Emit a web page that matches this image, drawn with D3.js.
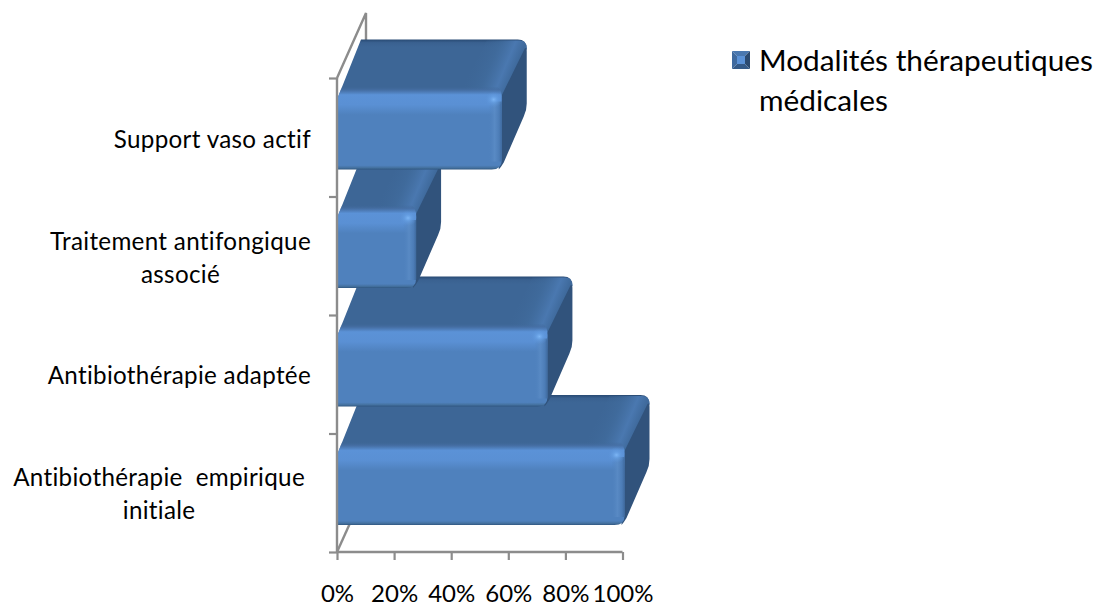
<!DOCTYPE html>
<html>
<head>
<meta charset="utf-8">
<script src="https://cdn.jsdelivr.net/npm/d3@7/dist/d3.min.js"></script>
<style>
  html, body { margin: 0; background: #fff; }
  svg { display: block; }
  text { font-family: Lato, "Open Sans", sans-serif; fill: #000; white-space: pre; font-variant-ligatures: none; }
</style>
</head>
<body>
<svg id="chart" width="1100" height="608"></svg>
<script>
// Share of patients per medical treatment, bottom to top on the chart
const categories = ["Antibiothérapie empirique initiale", "Antibiothérapie adaptée", "Traitement antifongique associé", "Support vaso actif"];
const categoryLines = [["Antibiothérapie  empirique ", "initiale"], ["Antibiothérapie adaptée"], ["Traitement antifongique", "associé"], ["Support vaso actif"]];
const values = [100, 73, 27, 57];
const percentTicks = [0, 20, 40, 60, 80, 100];
const seriesName = ["Modalités thérapeutiques", "médicales"];

const svg = d3.select("#chart");
const defs = svg.append("defs");

const x = d3.scaleLinear().domain([0, 100]).range([337, 622.5]);
const y = d3.scaleBand().domain(categories).range([552, 78]);
const labelY = d3.scalePoint().domain(categories).range([502, 148]);

// Oblique depth of the 3D box
const depthX = 24, depthY = 58;
const barH = 72, barFoot = 27, barOver = 3, radius = 9;
const axisColor = "#8c8c8c";

function gradient(id, stops, dir) {
  const g = defs.append("linearGradient").attr("id", id)
    .attr("x1", 0).attr("y1", 0)
    .attr("x2", dir === "h" ? 1 : 0).attr("y2", dir === "h" ? 0 : 1);
  stops.forEach(s => g.append("stop").attr("offset", s[0]).attr("stop-color", s[1]).attr("stop-opacity", s[2] === undefined ? 1 : s[2]));
}

// Front face: soft top bevel, flat body, dark lower lip
gradient("frontFill", [
  [0, "#3f6899", 0], [0.04, "#466fa5", 0.8], [0.1, "#5b92d7"], [0.22, "#5a90d4"],
  [0.34, "#4f81bd"], [0.95, "#4f81bd"], [0.98, "#44719f"], [1, "#2f5680"]
]);
gradient("frontEdge", [[0, "#4f81bd", 0], [0.45, "#5b8cc6", 0.8], [0.8, "#4c7cb6", 0.9], [1, "#3f6a9e", 1]], "h");
gradient("topLip", [[0, "#284a73"], [0.05, "#3a6190"], [0.12, "#3d6696"], [1, "#3d6696"]]);

const glow = defs.append("radialGradient").attr("id", "cornerGlow");
glow.append("stop").attr("offset", 0).attr("stop-color", "#7db6f5").attr("stop-opacity", 1);
glow.append("stop").attr("offset", 0.4).attr("stop-color", "#68a2e6").attr("stop-opacity", 0.65);
glow.append("stop").attr("offset", 1).attr("stop-color", "#5b92d7").attr("stop-opacity", 0);

// Walls and floor seen through the chart, drawn below the bars
const wall = svg.append("g").attr("fill", "none").attr("stroke", axisColor).attr("stroke-width", 2.4);
const [axisX0] = x.range();
const [axisBottom, axisTop] = y.range();
wall.append("path").attr("d", `M${axisX0},${axisTop}L${axisX0 + 29},${axisTop - 65}V${axisTop - 30}`);
wall.append("path").attr("d", `M${axisX0},${axisBottom}L${axisX0 + 14},${axisBottom - 31}`);

// Boxes are stacked from the bottom category upward so the upper ones overlap
const bars = svg.append("g").selectAll("g").data(categories).join("g");

bars.each(function (cat, i) {
  const g = d3.select(this);
  const x0 = x(0);
  const x1 = x(values[i]) + barOver;
  const yb = y(cat) + y.bandwidth() - barFoot;
  const yt = yb - barH;
  const bx = x1 + depthX, bt = yt - depthY, bb = yb - depthY;
  const r = radius;

  // Upper face
  g.append("path")
    .attr("d", `M${x0},${yt + 2}L${x0 + depthX},${bt}H${bx - r}Q${bx},${bt} ${bx},${bt + r}L${x1},${yt + 6}Z`)
    .attr("fill", "url(#topLip)");

  // Sheen along the far edge of the upper face, its bands parallel to the slant
  const id = "sheen" + i;
  const sheen = defs.append("linearGradient").attr("id", id).attr("gradientUnits", "userSpaceOnUse")
    .attr("x1", x1 - 24 - 20).attr("y1", yt - 8.5)
    .attr("x2", x1 - 24 + 20.5).attr("y2", yt + 8.5);
  [[0, "#3d6696", 0], [0.45, "#416d9f", 0.6], [0.78, "#4a78b0", 1], [1, "#3f6a9c", 1]].forEach(s =>
    sheen.append("stop").attr("offset", s[0]).attr("stop-color", s[1]).attr("stop-opacity", s[2]));
  g.append("path")
    .attr("d", `M${x1 - 40},${yt - 11}L${bx - 40},${bt + 1}H${bx - r}Q${bx},${bt} ${bx},${bt + r}L${x1},${yt + 6}Z`)
    .attr("fill", `url(#${id})`);

  // Right-hand face
  g.append("path")
    .attr("d", `M${x1 - 2},${yt}L${bx - 2},${bt + 9}Q${bx},${bt + 7} ${bx},${bt + 12}V${bb - 8}Q${bx},${bb - 1} ${bx - 3},${bb + 5}L${x1 + 1},${yb - 7}Q${x1 - 2},${yb - 2} ${x1 - 4},${yb}Z`)
    .attr("fill", "#31537c");

  // Front face with its bevel
  g.append("path")
    .attr("d", `M${x0},${yb}V${yt + 2}L${x0 + 5},${yt - 11}H${x1 - 6}Q${x1},${yt - 8} ${x1 - 1},${yt + 4}V${yb - r}Q${x1 - 1},${yb} ${x1 - r - 2},${yb}Z`)
    .attr("fill", "url(#frontFill)");
  g.append("rect")
    .attr("x", x1 - 14).attr("y", yt + 4).attr("width", 13).attr("height", barH - 12)
    .attr("fill", "url(#frontEdge)");
  g.append("ellipse")
    .attr("cx", x1 - 9).attr("cy", yt + 2).attr("rx", 9).attr("ry", 8)
    .attr("fill", "url(#cornerGlow)");
});

// Value axis
const xAxis = d3.axisBottom(x).tickValues(percentTicks).tickSize(8).tickPadding(25).tickFormat(d => d + "%");
const xG = svg.append("g").attr("transform", `translate(0,${axisBottom})`).call(xAxis);
xG.select(".domain").attr("stroke", axisColor).attr("stroke-width", 2.6).attr("d", `M${x.range()[0]},0H${x.range()[1]}`);
xG.selectAll(".tick line").attr("stroke", axisColor).attr("stroke-width", 2.2);
xG.selectAll(".tick text").attr("font-size", 24).style("font-family", "Lato, sans-serif").attr("fill", "#000");

// Category axis: ticks sit on the band boundaries
const boundary = d3.scaleLinear().domain([0, categories.length]).range([axisBottom, axisTop]);
const yAxis = d3.axisLeft(boundary).ticks(categories.length).tickSize(8).tickFormat("");
const yG = svg.append("g").attr("transform", `translate(${axisX0},0)`).call(yAxis);
yG.select(".domain").attr("stroke", axisColor).attr("stroke-width", 2.4).attr("d", `M0,${axisBottom}V${axisTop}`);
yG.selectAll(".tick line").attr("stroke", axisColor).attr("stroke-width", 2.2);

// Category labels: each block is centred and flush against the axis,
// a trailing space on the first line holds that block slightly further off
const labelRight = 311, lineGap = 33, trailingInset = 6;
categories.forEach((cat, i) => {
  const lines = categoryLines[i];
  const inset = lines[0].endsWith(" ") ? trailingInset : 0;
  const t = svg.append("g").selectAll("text").data(lines).join("text")
    .attr("font-size", 24.2)
    .attr("letter-spacing", 0.32)
    .attr("y", (d, k) => labelY(cat) + (k - (lines.length - 1) / 2) * lineGap)
    .text(d => d.trimEnd());
  const widest = d3.max(t.nodes(), n => n.getComputedTextLength());
  t.attr("text-anchor", "middle").attr("x", labelRight - inset - widest / 2);
});

// Legend with its bevelled swatch
const lx = 732, ly = 51, ls = 18, li = 5;
const legend = svg.append("g");
const facets = [
  [`M${lx},${ly}h${ls}l${-li},${li}h${-(ls - 2 * li)}Z`, "#4a78b0"],
  [`M${lx},${ly}v${ls}l${li},${-li}v${-(ls - 2 * li)}Z`, "#3f6a9f"],
  [`M${lx + ls},${ly}v${ls}l${-li},${-li}v${-(ls - 2 * li)}Z`, "#2b4a70"],
  [`M${lx},${ly + ls}h${ls}l${-li},${-li}h${-(ls - 2 * li)}Z`, "#345a88"]
];
legend.selectAll("path").data(facets).join("path").attr("d", d => d[0]).attr("fill", d => d[1]);
legend.append("rect").attr("x", lx + li).attr("y", ly + li).attr("width", ls - 2 * li).attr("height", ls - 2 * li).attr("fill", "#5b92d7");
legend.selectAll("text").data(seriesName).join("text")
  .attr("x", 759).attr("y", (d, k) => 71 + k * 40)
  .attr("font-size", 29.8)
  .text(d => d);
</script>
</body>
</html>
